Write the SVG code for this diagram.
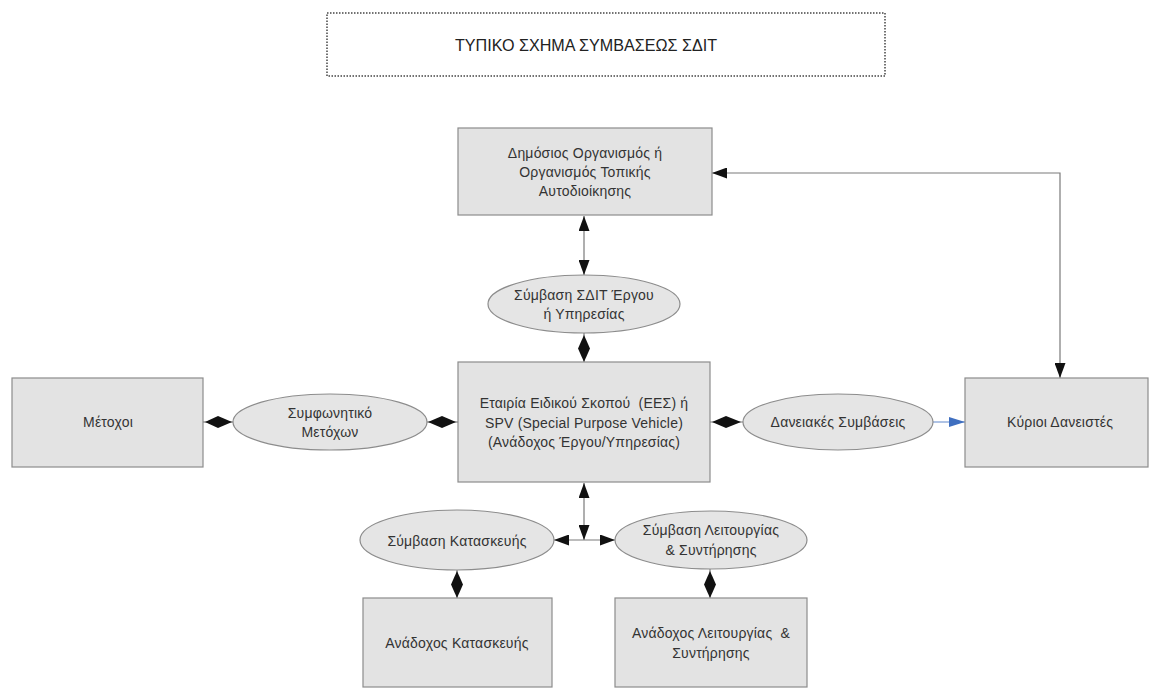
<svg xmlns="http://www.w3.org/2000/svg" width="1150" height="689" viewBox="0 0 1150 689">
  <style>
    .box { fill: #e3e3e3; stroke: #8c8c8c; stroke-width: 1.2; }
    .oval { fill: #e5e5e5; stroke: #8c8c8c; stroke-width: 1.2; }
    .lbl { font-family: "Liberation Sans", Arial, sans-serif; font-size: 14px; letter-spacing: 0.2px; fill: #333; text-anchor: middle; }
    .title { font-family: "Liberation Sans", Arial, sans-serif; font-size: 16px; fill: #222; text-anchor: middle; }
    .wire { fill: none; stroke: #7a7a7a; stroke-width: 1.2; }
    .blue { fill: none; stroke: #7b9bd4; stroke-width: 1.2; }
    .dia { fill: #111; }
  </style>
  <defs>
    <marker id="arrow" viewBox="0 0 15 11" refX="15" refY="5.5" markerWidth="15" markerHeight="11" markerUnits="userSpaceOnUse" orient="auto-start-reverse">
      <path d="M0,0 L15,5.5 L0,11 Z" fill="#111"/>
    </marker>
    <marker id="arrowBlue" viewBox="0 0 16 10" refX="16" refY="5" markerWidth="16" markerHeight="10" markerUnits="userSpaceOnUse" orient="auto">
      <path d="M0,0 L16,5 L0,10 Z" fill="#3f6fc0"/>
    </marker>
  </defs>

  <rect width="1150" height="689" fill="#ffffff"/>

  <!-- title frame -->
  <g id="title">
    <rect x="327" y="13" width="558" height="63" fill="#fff" stroke="#444" stroke-width="1.5" stroke-dasharray="1.5 1.5"/>
    <text class="title" x="586" y="51" textLength="262" lengthAdjust="spacingAndGlyphs">ΤΥΠΙΚΟ ΣΧΗΜΑ ΣΥΜΒΑΣΕΩΣ ΣΔΙΤ</text>
  </g>

  <!-- connectors -->
  <g id="connectors">
    <line class="wire" x1="584" y1="216" x2="584" y2="275" marker-start="url(#arrow)" marker-end="url(#arrow)"/>
    <path class="wire" d="M712,173 H1060 V378" marker-start="url(#arrow)" marker-end="url(#arrow)"/>

    <line class="wire" x1="584" y1="333" x2="584" y2="362"/>
    <polygon class="dia" points="584,335 590,348.5 584,362 578,348.5"/>

    <line class="wire" x1="203" y1="422" x2="233" y2="422"/>
    <polygon class="dia" points="205,422 218,416 232,422 218,428"/>

    <line class="wire" x1="427" y1="422" x2="458" y2="422"/>
    <polygon class="dia" points="428,422 442,416 456,422 442,428"/>

    <line class="wire" x1="710" y1="422" x2="743" y2="422"/>
    <polygon class="dia" points="712,422 726,416 741,422 726,428"/>

    <line class="blue" x1="933" y1="422" x2="965" y2="422" marker-end="url(#arrowBlue)"/>

    <line class="wire" x1="584" y1="483" x2="584" y2="540" marker-start="url(#arrow)" marker-end="url(#arrow)"/>
    <line class="wire" x1="554" y1="540" x2="615" y2="540" marker-start="url(#arrow)" marker-end="url(#arrow)"/>

    <line class="wire" x1="457" y1="570" x2="457" y2="598"/>
    <polygon class="dia" points="457,571 463,584.5 457,598 451,584.5"/>

    <line class="wire" x1="710" y1="569" x2="710" y2="598"/>
    <polygon class="dia" points="710,571 716,584.5 710,598 704,584.5"/>
  </g>

  <g id="public-body">
    <rect class="box" x="458" y="128" width="254" height="87"/>
    <text class="lbl" x="585" y="158">Δημόσιος Οργανισμός ή</text>
    <text class="lbl" x="585" y="177">Οργανισμός Τοπικής</text>
    <text class="lbl" x="585" y="196">Αυτοδιοίκησης</text>
  </g>

  <g id="ppp-contract">
    <ellipse class="oval" cx="584" cy="304" rx="96" ry="29"/>
    <text class="lbl" x="584" y="300">Σύμβαση ΣΔΙΤ Έργου</text>
    <text class="lbl" x="584" y="319">ή Υπηρεσίας</text>
  </g>

  <g id="spv">
    <rect class="box" x="458" y="362" width="252" height="120"/>
    <text class="lbl" x="584" y="408" xml:space="preserve">Εταιρία Ειδικού Σκοπού  (ΕΕΣ) ή</text>
    <text class="lbl" x="584" y="428">SPV (Special Purpose Vehicle)</text>
    <text class="lbl" x="584" y="447">(Ανάδοχος Έργου/Υπηρεσίας)</text>
  </g>

  <g id="shareholders">
    <rect class="box" x="12" y="378" width="191" height="89"/>
    <text class="lbl" x="108" y="427">Μέτοχοι</text>
  </g>

  <g id="shareholders-agreement">
    <ellipse class="oval" cx="330" cy="422" rx="97" ry="28"/>
    <text class="lbl" x="330" y="418">Συμφωνητικό</text>
    <text class="lbl" x="330" y="437">Μετόχων</text>
  </g>

  <g id="loan-agreements">
    <ellipse class="oval" cx="838" cy="422" rx="95" ry="28"/>
    <text class="lbl" x="838" y="427">Δανειακές Συμβάσεις</text>
  </g>

  <g id="senior-lenders">
    <rect class="box" x="965" y="378" width="183" height="89"/>
    <text class="lbl" x="1060" y="427">Κύριοι Δανειστές</text>
  </g>

  <g id="construction-contract">
    <ellipse class="oval" cx="457" cy="540" rx="97" ry="30"/>
    <text class="lbl" x="457" y="546">Σύμβαση Κατασκευής</text>
  </g>

  <g id="om-contract">
    <ellipse class="oval" cx="711" cy="540" rx="96" ry="29"/>
    <text class="lbl" x="711" y="535">Σύμβαση Λειτουργίας</text>
    <text class="lbl" x="711" y="555">&amp; Συντήρησης</text>
  </g>

  <g id="construction-contractor">
    <rect class="box" x="363" y="598" width="189" height="89"/>
    <text class="lbl" x="457" y="648">Ανάδοχος Κατασκευής</text>
  </g>

  <g id="om-contractor">
    <rect class="box" x="615" y="598" width="192" height="89"/>
    <text class="lbl" x="711" y="638" xml:space="preserve">Ανάδοχος Λειτουργίας  &amp;</text>
    <text class="lbl" x="711" y="658">Συντήρησης</text>
  </g>
</svg>
